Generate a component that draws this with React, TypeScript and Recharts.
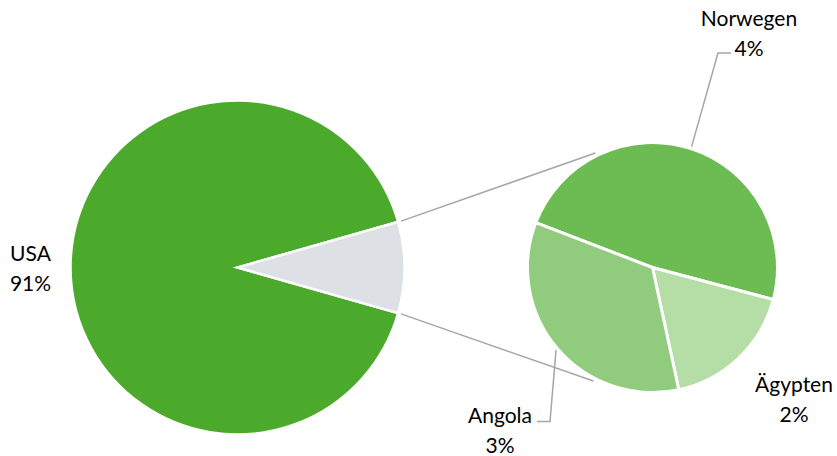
import { PieChart, Pie, Cell } from 'recharts';

// Primärenergie-Import (Anteile in %)
const mainNames = ['USA', 'Sonstige'];
const usaValue = 91.2;
const restNames = ['Norwegen', 'Ägypten', 'Angola'];
const restValues = [4.25, 1.54, 3.01];

const restTotal = restValues.reduce((a, b) => a + b, 0);
const mainData = mainNames.map((name, i) => ({ name, value: i === 0 ? usaValue : restTotal }));
const restData = restNames.map((name, i) => ({ name, value: restValues[i] }));

const mainColors = ['#4BAA2B', '#DDE1E6'];
const restColors = ['#6DBB53', '#B5DDA6', '#90CB7E'];

const W = 837;
const H = 456;
const MAIN = { cx: 237.5, cy: 267.5, r: 167 };
const SUB = { cx: 652.5, cy: 267.5, r: 125 };
const FONT = 'Lato, "Liberation Sans", sans-serif';
const FONT_SIZE = 21;
const LINE_GAP = 15;
const GREY = '#A6A6A6';
const RAD = Math.PI / 180;

// label positions relative to the pie centre, leader points relative to the label
const labelLayout: Record<string, { dx: number; dy: number; elbow?: [number, number]; end?: [number, number] }> = {
  USA: { dx: -207, dy: 0 },
  Norwegen: { dx: 96.5, dy: -235.5, elbow: [-31, 21], end: [-18, 21] },
  'Ägypten': { dx: 141.5, dy: 130.5 },
  Angola: { dx: -152.5, dy: 162, elbow: [50, -8], end: [37, -8] },
};

// where the connector lines meet the secondary pie (degrees)
const connectorAngles = [116.5, -117.5];

function renderLabel(names: string[]) {
  return (props: any) => {
    const { cx, cy, midAngle, outerRadius, value, index } = props;
    const name = names[index];
    const L = labelLayout[name];
    if (!L) return null;
    const x = cx + L.dx;
    const y = cy + L.dy;
    let leader = null;
    if (L.elbow && L.end) {
      const sx = cx + (outerRadius + 2) * Math.cos(-midAngle * RAD);
      const sy = cy + (outerRadius + 2) * Math.sin(-midAngle * RAD);
      leader = (
        <path
          d={`M${sx},${sy}L${x + L.elbow[0]},${y + L.elbow[1]}L${x + L.end[0]},${y + L.end[1]}`}
          stroke={GREY}
          strokeWidth={1.5}
          fill="none"
        />
      );
    }
    return (
      <g key={`lbl-${name}`}>
        {leader}
        <text x={x} y={y - LINE_GAP} textAnchor="middle" dominantBaseline="central" fill="#000" fontFamily={FONT} fontSize={FONT_SIZE}>
          {name}
        </text>
        <text x={x} y={y + LINE_GAP} textAnchor="middle" dominantBaseline="central" fill="#000" fontFamily={FONT} fontSize={FONT_SIZE}>
          {`${Math.round(value)}%`}
        </text>
      </g>
    );
  };
}

export default function App() {
  const half = ((restTotal / (usaValue + restTotal)) * 360) / 2;
  const edgeR = MAIN.r + 3;
  const starts = [
    [MAIN.cx + edgeR * Math.cos(half * RAD), MAIN.cy - edgeR * Math.sin(half * RAD)],
    [MAIN.cx + edgeR * Math.cos(half * RAD), MAIN.cy + edgeR * Math.sin(half * RAD)],
  ];
  const ends = connectorAngles.map((a) => [
    SUB.cx + (SUB.r + 3) * Math.cos(a * RAD),
    SUB.cy - (SUB.r + 3) * Math.sin(a * RAD),
  ]);

  return (
    <div style={{ position: 'absolute', left: 0, top: 0, width: W, height: H, background: '#fff' }}>
      <PieChart width={W} height={H} margin={{ top: 0, right: 0, bottom: 0, left: 0 }}>
        <g>
          {starts.map((s, i) => (
            <line key={i} x1={s[0]} y1={s[1]} x2={ends[i][0]} y2={ends[i][1]} stroke={GREY} strokeWidth={1.5} />
          ))}
        </g>
        <Pie
          data={mainData}
          dataKey="value"
          nameKey="name"
          cx={MAIN.cx}
          cy={MAIN.cy}
          outerRadius={MAIN.r}
          startAngle={half}
          endAngle={half + 360}
          stroke="#fff"
          strokeWidth={2.5}
          label={renderLabel(mainNames)}
          labelLine={false}
          isAnimationActive={false}
        >
          {mainData.map((d, i) => (
            <Cell key={d.name} fill={mainColors[i]} />
          ))}
        </Pie>
        <Pie
          data={restData}
          dataKey="value"
          nameKey="name"
          cx={SUB.cx}
          cy={SUB.cy}
          outerRadius={SUB.r}
          startAngle={159}
          endAngle={159 - 360}
          stroke="#fff"
          strokeWidth={3}
          label={renderLabel(restNames)}
          labelLine={false}
          isAnimationActive={false}
        >
          {restData.map((d, i) => (
            <Cell key={d.name} fill={restColors[i]} />
          ))}
        </Pie>
      </PieChart>
    </div>
  );
}
